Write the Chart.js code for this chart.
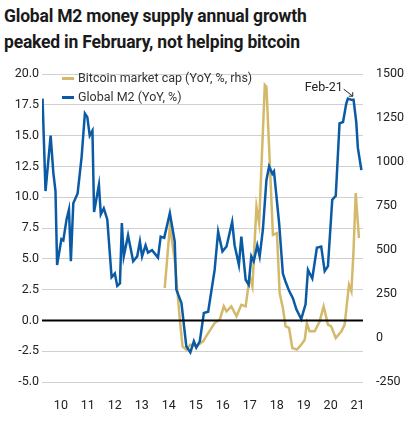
<!DOCTYPE html>
<html><head><meta charset="utf-8">
<script src="https://cdn.jsdelivr.net/npm/chart.js@4"></script>
<style>
body{margin:0;background:#fff;font-family:Roboto,"Liberation Sans",sans-serif;}
#t{position:absolute;left:4px;top:3px;font-weight:bold;font-size:17.5px;line-height:26px;color:#1a1a1a;letter-spacing:-0.2px}
#w{position:absolute;left:0;top:60px;width:404px;height:364px}
#lg{position:absolute;left:62px;top:68px;font-size:12.5px;color:#333;line-height:19px}
.k{display:inline-block;width:12px;height:3px;margin-right:4px;vertical-align:middle}
</style></head><body>
<div id="t">Global M2 money supply annual growth<br>peaked in February, not helping bitcoin</div>
<div id="w"><canvas id="c"></canvas></div>
<div id="lg"><div><span class="k" style="background:#d4b96a"></span>Bitcoin market cap (YoY, %, rhs)</div><div><span class="k" style="background:#0a5aa6"></span>Global M2 (YoY, %)</div></div>
<script>
const yearTicks = [10,11,12,13,14,15,16,17,18,19,20,21];
const m2X = [9.32,9.43,9.62,9.72,9.80,9.86,10.02,10.09,10.21,10.30,10.37,10.46,10.62,10.77,10.89,10.98,11.07,11.17,11.23,11.41,11.48,11.59,11.72,11.88,12.0,12.09,12.19,12.26,12.33,12.49,12.68,12.83,12.93,13.01,13.14,13.23,13.38,13.60,13.70,13.83,14.04,14.22,14.28,14.47,14.65,14.80,14.93,15.02,15.15,15.30,15.46,15.70,15.83,15.99,16.14,16.35,16.44,16.60,16.69,16.85,16.96,17.06,17.15,17.28,17.37,17.49,17.62,17.72,17.84,17.90,18.09,18.23,18.32,18.46,18.60,18.73,18.91,19.07,19.16,19.32,19.49,19.65,19.78,19.90,20.06,20.19,20.33,20.46,20.58,20.64,20.77,20.85,20.95,21.01,21.14];
const m2Y = [18.0,10.5,15.0,12.0,10.5,4.5,6.6,6.5,8.2,9.0,4.8,9.5,10.3,13.3,16.8,16.5,15.0,15.4,8.8,11.0,8.6,9.1,8.2,3.5,3.8,2.8,3.0,7.9,5.2,6.9,4.8,5.2,6.4,5.2,6.1,5.5,5.7,5.1,6.8,6.7,8.7,6.4,2.5,1.4,-2.1,-2.6,-1.7,-2.2,-1.7,0.6,0.7,4.1,7.2,5.6,6.0,8.0,6.1,4.5,6.8,3.3,2.9,5.2,4.8,6.1,5.2,7.4,11.4,12.5,11.9,12.1,7.9,3.8,3.2,2.4,1.8,0.9,0.1,1.3,4.1,3.4,5.9,6.0,4.0,4.4,9.8,10.1,16.0,16.1,17.6,18.0,17.9,17.9,16.1,14.0,12.2];
const btcX = [13.85,14.04,14.22,14.41,14.51,14.65,14.80,15.02,15.27,15.46,15.70,15.89,16.04,16.14,16.32,16.51,16.69,16.85,17.0,17.10,17.25,17.35,17.43,17.56,17.62,17.74,17.86,18.01,18.11,18.23,18.33,18.46,18.58,18.75,18.91,19.04,19.12,19.22,19.41,19.59,19.74,19.90,20.02,20.19,20.40,20.52,20.68,20.77,20.85,20.93,21.05];
const btcY = [284,634,444,104,-48,-66,-38,-48,-19,28,85,104,180,151,180,123,189,180,350,293,747,652,955,1438,1428,1012,586,596,255,170,66,57,-57,-66,-38,-10,85,38,38,94,180,76,66,0,38,76,303,265,501,823,567];

const pts = (xs, ys) => xs.map((x, i) => ({x, y: ys[i]}));
const tickFont = {family: "Roboto", size: 12.5};

const extras = {
  id: "extras",
  afterDatasetsDraw(chart) {
    const {ctx, scales: {x, y}} = chart;
    ctx.save();
    ctx.strokeStyle = "#000"; ctx.lineWidth = 2;
    ctx.beginPath(); ctx.moveTo(x.left, y.getPixelForValue(0)); ctx.lineTo(x.right, y.getPixelForValue(0)); ctx.stroke();
    // Feb-21 marker
    const px = x.getPixelForValue(20.82), py = y.getPixelForValue(18.2);
    ctx.fillStyle = "#222"; ctx.font = "12.5px Roboto"; ctx.textAlign = "right"; ctx.textBaseline = "middle";
    ctx.fillText("Feb-21", px - 10, py - 8);
    ctx.lineWidth = 1; ctx.strokeStyle = "#222";
    ctx.beginPath(); ctx.moveTo(px - 9, py - 7); ctx.lineTo(px, py); ctx.stroke();
    ctx.beginPath(); ctx.moveTo(px - 4, py); ctx.lineTo(px, py); ctx.lineTo(px, py - 4); ctx.stroke();
    ctx.restore();
  }
};

new Chart(document.getElementById("c"), {
  type: "line",
  data: {
    datasets: [
      {label: "Global M2", data: pts(m2X, m2Y), borderColor: "#0a5aa6", borderWidth: 2.5, yAxisID: "y", pointRadius: 0, tension: 0},
      {label: "Bitcoin", data: pts(btcX, btcY), borderColor: "#d4b96a", borderWidth: 2.5, yAxisID: "y1", pointRadius: 0, tension: 0}
    ]
  },
  options: {
    responsive: true, maintainAspectRatio: false, animation: false,
    layout: {padding: {top: 14, bottom: 0, right: 0}},
    plugins: {legend: {display: false}, tooltip: {enabled: false}},
    scales: {
      x: {
        type: "linear", min: 9.3, max: 21.2,
        afterBuildTicks: (s) => { s.ticks = yearTicks.map(v => ({value: v})); },
        afterFit: (s) => { s.height = 42; },
        ticks: {font: tickFont, color: "#222", autoSkip: false, maxRotation: 0, padding: 8},
        grid: {display: false}, border: {display: false}
      },
      y: {
        position: "left", min: -5, max: 20,
        afterFit: (s) => { s.width = 42; },
        ticks: {stepSize: 2.5, font: tickFont, color: "#222", callback: v => v.toFixed(1)},
        grid: {color: "#d0d0d0", drawTicks: false}, border: {display: false}
      },
      y1: {
        position: "right", min: -250, max: 1500,
        afterFit: (s) => { s.width = 41; },
        ticks: {stepSize: 250, font: tickFont, color: "#222", padding: 5, callback: v => String(v)},
        grid: {display: false}, border: {display: false}
      }
    }
  },
  plugins: [extras]
});
</script>
</body></html>
